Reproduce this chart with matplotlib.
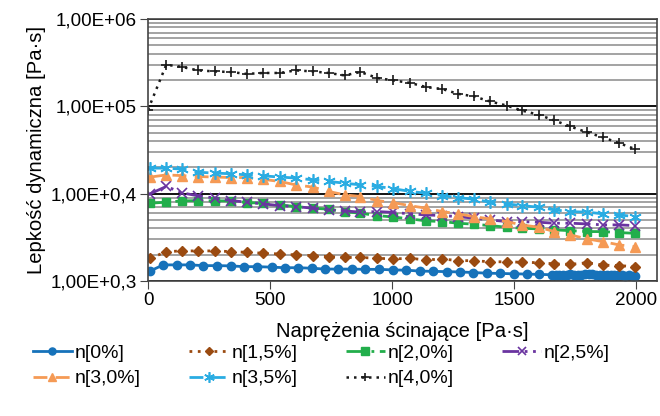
import numpy as np
import matplotlib
matplotlib.use('Agg')
import matplotlib.pyplot as plt
from matplotlib.ticker import LogLocator, NullFormatter

plt.rcParams['font.family'] = ['Liberation Sans', 'DejaVu Sans']
plt.rcParams['font.size'] = 13.6

# shared stress grid [Pa*s]
x_pts = [10, 75, 140, 205, 275, 340, 405, 470, 540, 605, 675, 740, 805, 870, 940,
         1005, 1075, 1140, 1205, 1270, 1335, 1400, 1470, 1530, 1600, 1665, 1730,
         1800, 1865, 1930, 1995]

# n[0%] has its own, denser grid
x_n0 = [8, 63, 118, 172, 227, 284, 339, 393, 448, 507, 561, 616, 670, 725, 780,
        834, 889, 948, 1003, 1058, 1113, 1168, 1223, 1278, 1333, 1388, 1443, 1498,
        1553, 1600, 1655, 1670, 1685, 1700, 1715, 1730, 1745, 1760, 1775, 1790,
        1805, 1820, 1835, 1850, 1865, 1880, 1895, 1910, 1925, 1940, 1955, 1970,
        1985, 1995]
n0 = [1.30e3, 1.53e3, 1.53e3, 1.53e3, 1.50e3, 1.50e3, 1.49e3, 1.46e3, 1.46e3,
      1.44e3, 1.42e3, 1.42e3, 1.40e3, 1.37e3, 1.37e3, 1.37e3, 1.36e3, 1.36e3,
      1.34e3, 1.33e3, 1.30e3, 1.29e3, 1.28e3, 1.27e3, 1.25e3, 1.23e3, 1.22e3,
      1.21e3, 1.20e3, 1.19e3, 1.18e3, 1.17e3, 1.18e3, 1.17e3, 1.18e3, 1.19e3,
      1.18e3, 1.17e3, 1.18e3, 1.19e3, 1.20e3, 1.19e3, 1.18e3, 1.17e3, 1.17e3,
      1.18e3, 1.17e3, 1.16e3, 1.17e3, 1.16e3, 1.15e3, 1.16e3, 1.15e3, 1.14e3]

n15 = [1.82e3, 2.17e3, 2.21e3, 2.21e3, 2.21e3, 2.17e3, 2.13e3, 2.08e3, 2.04e3,
       1.99e3, 1.95e3, 1.90e3, 1.86e3, 1.86e3, 1.82e3, 1.79e3, 1.82e3, 1.74e3,
       1.79e3, 1.71e3, 1.71e3, 1.66e3, 1.66e3, 1.64e3, 1.62e3, 1.57e3, 1.55e3,
       1.62e3, 1.52e3, 1.50e3, 1.46e3]
n20 = [7.78e3, 7.99e3, 8.27e3, 8.33e3, 8.27e3, 8.27e3, 7.91e3, 7.78e3, 7.44e3,
       7.11e3, 6.82e3, 6.64e3, 6.24e3, 5.97e3, 5.61e3, 5.40e3, 5.14e3, 4.88e3,
       4.79e3, 4.59e3, 4.47e3, 4.31e3, 4.13e3, 4.02e3, 3.95e3, 3.85e3, 3.77e3,
       3.68e3, 3.68e3, 3.58e3, 3.52e3]
n25 = [1.00e4, 1.21e4, 1.02e4, 9.45e3, 8.90e3, 8.33e3, 7.99e3, 7.64e3, 7.30e3,
       7.11e3, 6.82e3, 6.52e3, 6.35e3, 6.14e3, 6.24e3, 6.10e3, 5.87e3, 5.71e3,
       5.61e3, 5.46e3, 5.24e3, 5.01e3, 4.79e3, 4.79e3, 4.71e3, 4.59e3, 4.59e3,
       4.50e3, 4.39e3, 4.39e3, 4.31e3]
n30 = [1.55e4, 1.64e4, 1.61e4, 1.57e4, 1.55e4, 1.53e4, 1.53e4, 1.46e4, 1.38e4,
       1.26e4, 1.19e4, 1.06e4, 9.70e3, 9.28e3, 8.33e3, 7.90e3, 7.26e3, 6.82e3,
       6.24e3, 5.87e3, 5.46e3, 5.14e3, 4.79e3, 4.39e3, 4.13e3, 3.68e3, 3.37e3,
       3.03e3, 2.82e3, 2.59e3, 2.47e3]
n35 = [1.96e4, 1.96e4, 1.91e4, 1.76e4, 1.72e4, 1.69e4, 1.64e4, 1.60e4, 1.55e4,
       1.51e4, 1.44e4, 1.38e4, 1.32e4, 1.26e4, 1.21e4, 1.14e4, 1.06e4, 1.01e4,
       9.50e3, 9.00e3, 8.65e3, 8.00e3, 7.64e3, 7.30e3, 7.00e3, 6.52e3, 6.23e3,
       6.14e3, 5.87e3, 5.71e3, 5.46e3]
n40 = [9.14e4, 3.00e5, 2.82e5, 2.58e5, 2.51e5, 2.47e5, 2.35e5, 2.41e5, 2.41e5,
       2.58e5, 2.51e5, 2.41e5, 2.26e5, 2.47e5, 2.11e5, 1.98e5, 1.85e5, 1.66e5,
       1.58e5, 1.39e5, 1.30e5, 1.14e5, 1.02e5, 8.97e4, 8.01e4, 6.89e4, 5.88e4,
       5.02e4, 4.40e4, 3.79e4, 3.24e4]

x_n40 = [0] + x_pts[1:]

fig = plt.figure(figsize=(6.6, 4.16), dpi=100)
ax = fig.add_axes([148/660, 1 - 281/416, (657 - 148)/660, (281 - 19)/416])

l0, = ax.plot(x_n0, n0, '-', color='#1672BA', lw=2, marker='o', ms=6, label='n[0%]')
l15, = ax.plot(x_pts, n15, linestyle=(0, (1, 2)), color='#9A4A10', lw=2, marker='D', ms=5,
               label='n[1,5%]')
l20, = ax.plot(x_pts, n20, linestyle=(0, (7, 2, 1, 2)), color='#22AE4B', lw=2, marker='s',
               ms=6, label='n[2,0%]')
l25, = ax.plot(x_pts, n25, linestyle=(0, (6, 2, 1, 2, 1, 2)), color='#6A34A0', lw=2,
               marker='x', ms=7, mew=1.2, label='n[2,5%]')
l30, = ax.plot(x_pts, n30, linestyle=(0, (5, 3)), color='#F59A55', lw=2, marker='^', ms=7,
               label='n[3,0%]')
l35, = ax.plot(x_pts, n35, linestyle=(0, (5, 3)), color='#2AACE2', lw=2, marker=(6, 2, 0),
               ms=9, mew=1.2, label='n[3,5%]')
l40, = ax.plot(x_n40, n40, linestyle=(0, (1, 2)), color='#1a1a1a', lw=1.8, marker='+', ms=7,
               mew=1.2, label='n[4,0%]')

ax.set_yscale('log')
ax.set_ylim(1e3, 1e6)
ax.set_xlim(0, 2085)
ax.set_xticks([0, 500, 1000, 1500, 2000])
ax.set_yticks([1e3, 1e4, 1e5, 1e6])
ax.set_yticklabels(['1,00E+0,3', '1,00E+0,4', '1,00E+05', '1,00E+06'])
ax.yaxis.set_minor_locator(LogLocator(base=10, subs=range(2, 10)))
ax.yaxis.set_minor_formatter(NullFormatter())
ax.tick_params(which='minor', length=0)
ax.tick_params(which='major', direction='out', length=6, color='#444444', pad=2)
ax.grid(which='major', axis='y', color='#111111', lw=1.4)
ax.grid(which='minor', axis='y', color='#8a8a8a', lw=1.1)
ax.set_axisbelow(True)
for s in ax.spines.values():
    s.set_color('#444444')
    s.set_linewidth(1.2)

ax.set_xlabel('Naprężenia ścinające [Pa·s]', fontsize=14.6, labelpad=9)
ax.set_ylabel('Lepkość dynamiczna [Pa·s]', fontsize=14.6, labelpad=3)

# legend filled column-wise, so order gives rows n0..n25 / n30..n40
handles = [l0, l30, l15, l35, l20, l40, l25]
fig.legend(handles=handles, labels=[h.get_label() for h in handles],
           loc='upper left', bbox_to_anchor=(0.05, 0.172), ncol=4, frameon=False,
           fontsize=14, handlelength=2.0, handletextpad=0.15, columnspacing=2.5,
           labelspacing=0.4, borderaxespad=0, borderpad=0, markerscale=0.85)

fig.savefig('out.png', dpi=100)
